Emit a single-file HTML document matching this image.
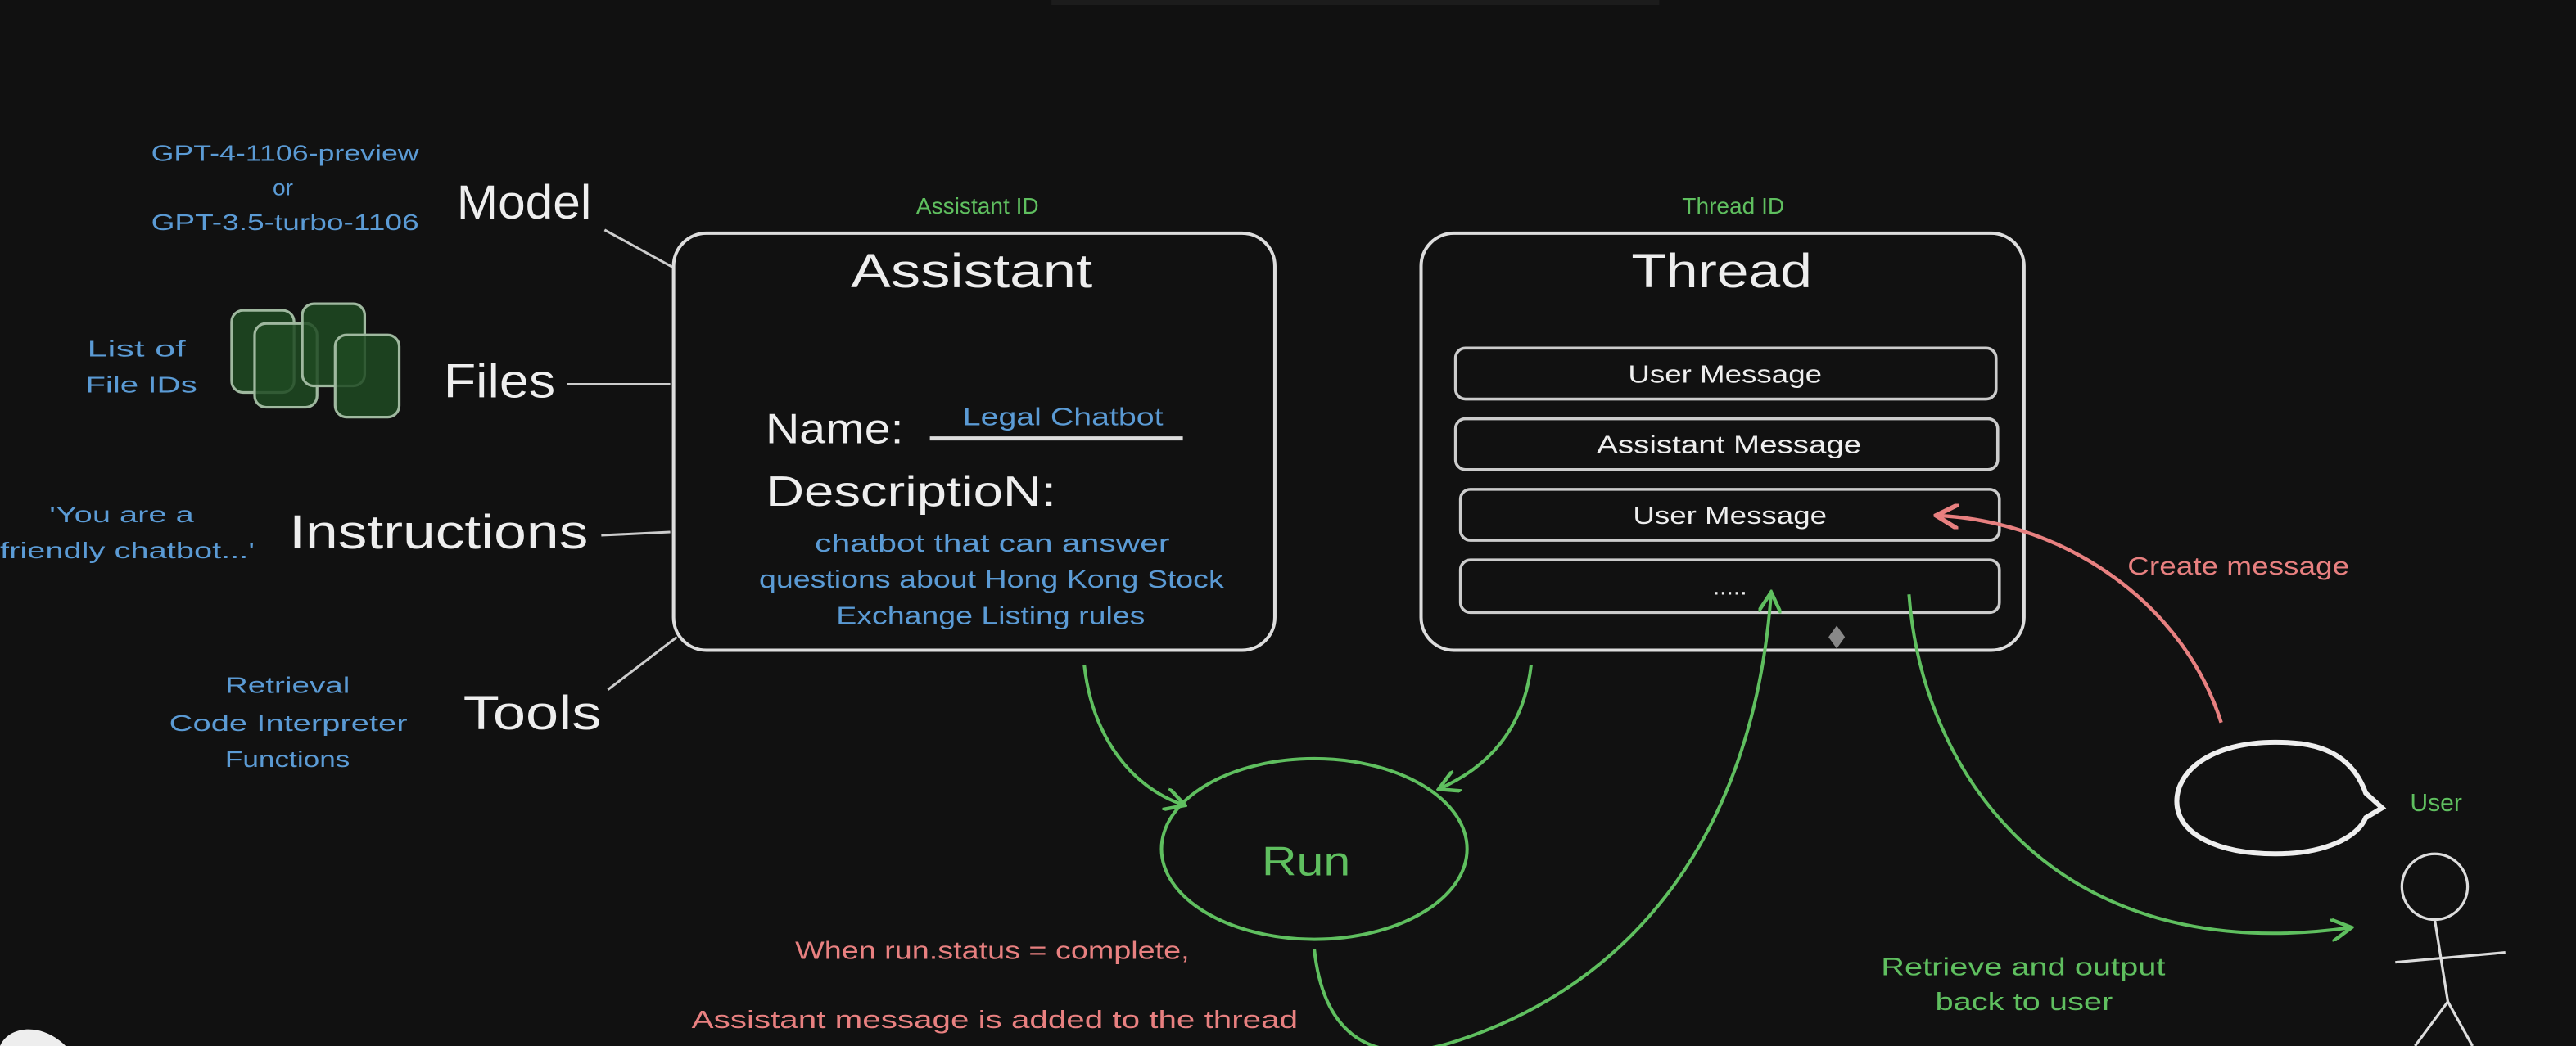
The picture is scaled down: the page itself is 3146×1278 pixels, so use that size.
<!DOCTYPE html>
<html><head><meta charset="utf-8"><style>
html,body{margin:0;padding:0;background:#111111;}
svg{display:block;}
text{font-family:"Liberation Sans",sans-serif;}
</style></head><body>
<svg width="3146" height="1278" viewBox="0 0 1568 637" preserveAspectRatio="none" xmlns="http://www.w3.org/2000/svg">
<defs>
<marker id="ag" viewBox="0 0 10 10" refX="8" refY="5" markerWidth="7" markerHeight="7" orient="auto-start-reverse"><path d="M0,0 L9,5 L0,10" fill="none" stroke="#5fbf5f" stroke-width="1.6"/></marker>
<marker id="ap" viewBox="0 0 10 10" refX="8" refY="5" markerWidth="7" markerHeight="7" orient="auto-start-reverse"><path d="M0,0 L9,5 L0,10" fill="none" stroke="#e88080" stroke-width="1.8"/></marker>
</defs>
<rect width="1568" height="637" fill="#111111"/>
<rect x="640" y="0" width="370" height="3" fill="#1c1c1c"/>

<!-- left labels -->
<g fill="#5b9bd5" font-size="14" lengthAdjust="spacingAndGlyphs">
<text x="92" y="98" textLength="163" lengthAdjust="spacingAndGlyphs">GPT-4-1106-preview</text>
<text x="166" y="119">or</text>
<text x="92" y="140" textLength="163" lengthAdjust="spacingAndGlyphs">GPT-3.5-turbo-1106</text>
<text x="53" y="217" textLength="60" lengthAdjust="spacingAndGlyphs">List of</text>
<text x="52" y="239" textLength="68" lengthAdjust="spacingAndGlyphs">File IDs</text>
<text x="30" y="318" textLength="88" lengthAdjust="spacingAndGlyphs">'You are a</text>
<text x="0" y="340" textLength="155" lengthAdjust="spacingAndGlyphs">friendly chatbot...'</text>
<text x="137" y="422" textLength="76" lengthAdjust="spacingAndGlyphs">Retrieval</text>
<text x="103" y="445" textLength="145" lengthAdjust="spacingAndGlyphs">Code Interpreter</text>
<text x="137" y="467" textLength="76" lengthAdjust="spacingAndGlyphs">Functions</text>
</g>
<g fill="#eeeeee" font-size="29">
<text x="278" y="133" textLength="82" lengthAdjust="spacingAndGlyphs">Model</text>
<text x="270" y="242" textLength="68" lengthAdjust="spacingAndGlyphs">Files</text>
<text x="176" y="334" textLength="182" lengthAdjust="spacingAndGlyphs">Instructions</text>
<text x="282" y="444" textLength="84" lengthAdjust="spacingAndGlyphs">Tools</text>
</g>
<g stroke="#cccccc" stroke-width="1.5" fill="none">
<line x1="368" y1="140" x2="410" y2="163"/>
<line x1="345" y1="234" x2="408" y2="234"/>
<line x1="366" y1="326" x2="408" y2="324"/>
<line x1="370" y1="420" x2="412" y2="388"/>
</g>
<!-- files icon -->
<g fill="#1f4a22" fill-opacity="0.85" stroke="#9fb89f" stroke-width="1.6">
<rect x="141" y="189" width="38" height="50" rx="7"/>
<rect x="155" y="197" width="38" height="51" rx="7"/>
<rect x="184" y="185" width="38" height="50" rx="7"/>
<rect x="204" y="204" width="39" height="50" rx="7"/>
</g>

<!-- Assistant -->
<text x="595" y="130" fill="#5fbf5f" font-size="14" text-anchor="middle">Assistant ID</text>
<rect x="410" y="142" width="366" height="254" rx="20" fill="none" stroke="#dddddd" stroke-width="2"/>
<text x="518" y="175" fill="#eeeeee" font-size="29" textLength="147" lengthAdjust="spacingAndGlyphs">Assistant</text>
<text x="466" y="270" fill="#eeeeee" font-size="26" textLength="84" lengthAdjust="spacingAndGlyphs">Name:</text>
<text x="586" y="259" fill="#5b9bd5" font-size="15" textLength="122" lengthAdjust="spacingAndGlyphs">Legal Chatbot</text>
<line x1="566" y1="267" x2="720" y2="267" stroke="#dddddd" stroke-width="2.5"/>
<text x="466" y="308" fill="#eeeeee" font-size="26" textLength="177" lengthAdjust="spacingAndGlyphs">DescriptioN:</text>
<g fill="#5b9bd5" font-size="15">
<text x="496" y="336" textLength="216" lengthAdjust="spacingAndGlyphs">chatbot that can answer</text>
<text x="462" y="358" textLength="283" lengthAdjust="spacingAndGlyphs">questions about Hong Kong Stock</text>
<text x="509" y="380" textLength="188" lengthAdjust="spacingAndGlyphs">Exchange Listing rules</text>
</g>

<!-- Thread -->
<text x="1055" y="130" fill="#5fbf5f" font-size="14" text-anchor="middle">Thread ID</text>
<rect x="865" y="142" width="367" height="254" rx="20" fill="none" stroke="#dddddd" stroke-width="2"/>
<text x="993" y="175" fill="#eeeeee" font-size="29" textLength="110" lengthAdjust="spacingAndGlyphs">Thread</text>
<g fill="none" stroke="#cccccc" stroke-width="1.8">
<rect x="886" y="212" width="329" height="31" rx="6"/>
<rect x="886" y="255" width="330" height="31" rx="6"/>
<rect x="889" y="298" width="328" height="31" rx="6"/>
<rect x="889" y="341" width="328" height="32" rx="6"/>
</g>
<g fill="#eeeeee" font-size="15">
<text x="991" y="233" textLength="118" lengthAdjust="spacingAndGlyphs">User Message</text>
<text x="972" y="276" textLength="161" lengthAdjust="spacingAndGlyphs">Assistant Message</text>
<text x="994" y="319" textLength="118" lengthAdjust="spacingAndGlyphs">User Message</text>
<text x="1053" y="362" text-anchor="middle">.....</text>
</g>
<path d="M1118,381 L1123,388 L1118,395 L1113,388 Z" fill="#888"/>

<!-- Run -->
<ellipse cx="800" cy="517" rx="93" ry="55" fill="none" stroke="#5fbf5f" stroke-width="2"/>
<text x="768" y="533" fill="#5fbf5f" font-size="25" textLength="54" lengthAdjust="spacingAndGlyphs">Run</text>
<g fill="none" stroke="#5fbf5f" stroke-width="2">
<path d="M660,405 C665,450 690,480 720,490" marker-end="url(#ag)"/>
<path d="M932,405 C928,440 910,465 877,480" marker-end="url(#ag)"/>
<path d="M800,578 C805,625 830,650 880,636 C1000,600 1068,500 1078,362" marker-end="url(#ag)"/>
<path d="M1162,362 C1170,470 1250,590 1430,565" marker-end="url(#ag)"/>
</g>
<path d="M1352,440 C1330,370 1260,318 1180,314" fill="none" stroke="#e88080" stroke-width="2.2" marker-end="url(#ap)"/>
<text x="1295" y="350" fill="#e88080" font-size="15" textLength="135" lengthAdjust="spacingAndGlyphs">Create message</text>

<g fill="#e88080" font-size="15">
<text x="484" y="584" textLength="240" lengthAdjust="spacingAndGlyphs">When run.status = complete,</text>
<text x="421" y="626" textLength="369" lengthAdjust="spacingAndGlyphs">Assistant message is added to the thread</text>
</g>
<g fill="#5fbf5f" font-size="15">
<text x="1145" y="594" textLength="173" lengthAdjust="spacingAndGlyphs">Retrieve and output</text>
<text x="1178" y="615" textLength="108" lengthAdjust="spacingAndGlyphs">back to user</text>
<text x="1467" y="494">User</text>
</g>

<!-- bubble -->
<path d="M1440,483 C1430,455 1405,452 1385,452 C1345,452 1325,470 1325,488 C1325,508 1350,520 1385,520 C1415,520 1435,510 1440,498 L1450,492 Z" fill="none" stroke="#eeeeee" stroke-width="3"/>
<!-- stick figure -->
<g fill="none" stroke="#dddddd" stroke-width="1.6">
<circle cx="1482" cy="540" r="20"/>
<line x1="1482" y1="560" x2="1490" y2="610"/>
<line x1="1458" y1="586" x2="1525" y2="580"/>
<line x1="1490" y1="610" x2="1470" y2="637"/>
<line x1="1490" y1="610" x2="1505" y2="637"/>
</g>
<path d="M0,637 C5,625 25,622 40,637 Z" fill="#eeeeee"/>
</svg>
</body></html>
